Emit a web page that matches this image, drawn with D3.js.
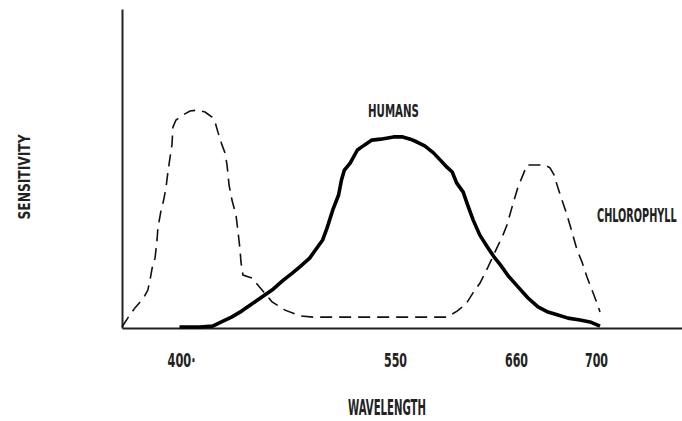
<!DOCTYPE html>
<html>
<head>
<meta charset="utf-8">
<script src="https://cdn.jsdelivr.net/npm/d3@7"></script>
<style>
  html, body { margin: 0; padding: 0; background: #fff; }
  svg { display: block; }
  text { font-family: "DejaVu Sans Condensed", "DejaVu Sans", sans-serif; font-weight: bold; fill: #222; }
</style>
</head>
<body>
<svg id="chart" width="682" height="421"></svg>
<script>
// ---- data ----
const tickValues = [400, 550, 660, 700];
const tickLabels = ["400·", "550", "660", "700"];

const humansWavelength = [401, 415, 424, 430, 437, 444, 451, 458, 465, 472,
  479, 484, 491, 496, 500, 503, 507, 511, 513, 515,
  519, 524, 529, 534, 540, 549, 557, 564, 570, 577,
  585, 591, 597, 602, 606, 612, 616, 621, 627, 634,
  640, 646, 653, 661, 666, 671, 676, 681, 686, 692,
  697, 702];
const humansSensitivity = [0.3, 0.3, 0.6, 1.9, 3.4, 5.3, 7.5, 9.7, 11.9, 14.7,
  17.2, 19.1, 21.9, 25.1, 27.6, 31.3, 37.0, 41.7, 46.4, 49.5,
  51.7, 55.8, 57.4, 58.9, 59.2, 59.9, 59.9, 59.2, 58.3, 57.1,
  54.9, 52.7, 50.5, 48.9, 45.5, 42.6, 38.6, 33.9, 29.2, 25.4,
  22.3, 19.7, 16.3, 12.9, 9.4, 6.6, 5.0, 4.1, 3.1, 2.5,
  1.9, 0.6];

const chlorophyllWavelength = [361, 365, 370, 376, 379, 380.5, 382, 384, 385.4, 386,
  388, 390, 391.6, 393, 394.4, 395.8, 396.5, 398.6, 403.5, 408.3,
  413.1, 418.7, 423.5, 425.6, 427.6, 430.4, 432.5, 433.9, 435.3, 437.3,
  440.1, 441.5, 442.9, 443.5, 444.9, 451.1, 458.1, 465, 474, 484.3,
  493.3, 597.3, 606.4, 614.5, 620.9, 627.3, 634.5, 641.8, 648.2, 651.8,
  656.4, 661, 663.5, 665.5, 669.5, 674.5, 677, 679, 681, 683,
  685.5, 688, 690.5, 693, 695.5, 698, 700.5, 702];
const chlorophyllSensitivity = [0.3, 3.1, 6.3, 9.4, 11.9, 15.0, 18.8, 21.9, 27.6, 31.3,
  36.4, 40.1, 43.9, 48.9, 53.3, 57.4, 63.0, 65.2, 66.8, 68.0,
  68.3, 67.7, 66.1, 64.6, 61.4, 57.4, 54.9, 51.1, 44.8, 40.1,
  35.4, 30.1, 24.5, 20.7, 16.6, 15.7, 11.9, 8.2, 5.6, 3.8,
  3.4, 3.4, 5.3, 7.5, 11.0, 14.1, 19.1, 24.5, 29.2, 32.3,
  37.9, 44.2, 48.0, 51.1, 51.1, 51.1, 50.2, 48.0, 43.9, 40.1,
  35.4, 30.1, 24.5, 20.7, 16.0, 11.9, 7.8, 5.0];

// ---- drawing ----
const svg = d3.select("#chart");

// hand-drawn, non-uniform wavelength axis: piecewise linear scale
const x = d3.scaleLinear()
  .domain([361, 400, 550, 660, 700, 743])
  .range([122, 178, 395, 516, 596, 682]);
const y = d3.scaleLinear().domain([0, 100]).range([328, 9]);

// axes
const xAxis = svg.append("g")
  .attr("transform", "translate(0,328)")
  .call(d3.axisBottom(x).tickValues(tickValues).tickSize(0).tickSizeOuter(0)
    .tickFormat((d, i) => tickLabels[i]));
xAxis.select(".domain").attr("stroke", "#222").attr("stroke-width", 2);
xAxis.selectAll(".tick text")
  .attr("dy", null)
  .attr("y", 39)
  .style("font-size", "20px")
  .attr("fill", "#222")
  .attr("lengthAdjust", "spacingAndGlyphs")
  .attr("textLength", (d, i) => i === 0 ? 28 : 23)
  .attr("x", (d, i) => i === 0 ? 3 : 0);

const yAxis = svg.append("g")
  .attr("transform", "translate(122,0)")
  .call(d3.axisLeft(y).tickValues([]).tickSizeOuter(0));
yAxis.select(".domain").attr("stroke", "#222").attr("stroke-width", 2);

// curves
const line = d3.line().x(d => x(d[0])).y(d => y(d[1]));

const chlorophyll = chlorophyllWavelength.map((w, i) => [w, chlorophyllSensitivity[i]]);
svg.append("path")
  .datum(chlorophyll)
  .attr("d", line)
  .attr("fill", "none")
  .attr("stroke", "#111")
  .attr("stroke-width", 1.6)
  .attr("stroke-dasharray", "12,7");

const humans = humansWavelength.map((w, i) => [w, humansSensitivity[i]]);
svg.append("path")
  .datum(humans)
  .attr("d", line)
  .attr("fill", "none")
  .attr("stroke", "#000")
  .attr("stroke-width", 3.6)
  .attr("stroke-linejoin", "round");

// labels
function label(txt, px, py, size, len, anchor, rot) {
  const t = svg.append("text")
    .attr("x", px).attr("y", py)
    .attr("text-anchor", anchor)
    .style("font-size", size + "px")
    .attr("lengthAdjust", "spacingAndGlyphs")
    .attr("textLength", len)
    .text(txt);
  if (rot) t.attr("transform", `rotate(${rot},${px},${py})`);
  return t;
}
label("HUMANS", 393.5, 117, 17, 51, "middle");
label("WAVELENGTH", 387, 415, 21, 78, "middle");
label("SENSITIVITY", 30, 177, 16, 85, "middle", -90);

// tall, narrow label squeezed in at the right edge
svg.append("text")
  .attr("transform", "translate(597,222) scale(0.8,1.5)")
  .attr("x", 0).attr("y", 0)
  .style("font-size", "13.5px")
  .text("CHLOROPHYLL");
</script>
</body>
</html>
